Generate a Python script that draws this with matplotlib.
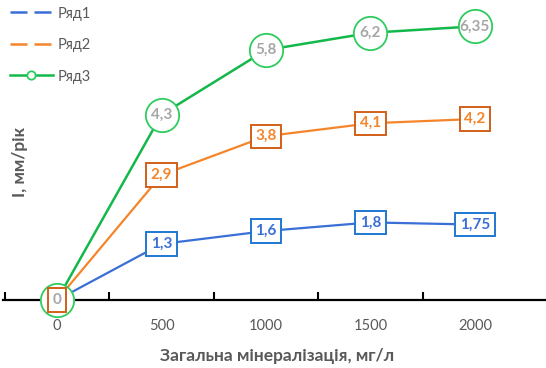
import matplotlib
matplotlib.use('Agg')
import matplotlib.pyplot as plt
from matplotlib.lines import Line2D
from matplotlib.ticker import FixedLocator

plt.rcParams['font.family'] = ['Lato', 'DejaVu Sans']

# data
categories = ['0', '500', '1000', '1500', '2000']
row1 = [0, 1.3, 1.6, 1.8, 1.75]
row2 = [0, 2.9, 3.8, 4.1, 4.2]
row3 = [0, 4.3, 5.8, 6.2, 6.35]
names = ['Ряд1', 'Ряд2', 'Ряд3']

BLUE = '#3a6fd6'
BLUE_EDGE = '#1f78d1'
ORANGE = '#f5852a'
ORANGE_EDGE = '#d2601a'
GREEN = '#13b84a'
GREEN_EDGE = '#2ecc5e'
GREY = '#595959'
LABEL_GREY = '#a6a6a6'

W, H = 546, 368
fig = plt.figure(figsize=(W / 100, H / 100), dpi=100)
ax = fig.add_axes([3 / W, (H - 300) / H, 543 / W, 290 / H])


def fmt(v):
    return f'{v:g}'.replace('.', ',')


x = list(range(len(categories)))
ax.plot(x, row1, color=BLUE, lw=1.6, zorder=2)
ax.plot(x, row2, color=ORANGE, lw=1.6, zorder=2)
ax.plot(x, row3, color=GREEN, lw=1.8, zorder=2)

# blue labels
for xi, v in zip(x[1:], row1[1:]):
    ax.text(xi, v, fmt(v), ha='center', va='center',
            fontsize=11, fontweight='bold', color=BLUE, zorder=5,
            bbox=dict(boxstyle='square,pad=0.3', fc='white', ec=BLUE_EDGE, lw=1.4))

# green circles with grey values
ax.plot(x, row3, ls='none', marker='o', ms=24, mfc='white', mec=GREEN_EDGE,
        mew=1.3, zorder=4, clip_on=False)
for xi, v in zip(x[1:], row3[1:]):
    ax.text(xi, v, fmt(v), ha='center', va='center',
            fontsize=11, fontweight='bold', color=LABEL_GREY, zorder=5)

# orange labels (the zero point sits on top of the circle)
for xi, v in zip(x, row2):
    ax.text(xi, v, fmt(v), ha='center', va='center',
            fontsize=11, fontweight='bold',
            color=ORANGE if v else LABEL_GREY, zorder=6, clip_on=False,
            bbox=dict(boxstyle='square,pad=0.3', fc='white', ec=ORANGE_EDGE, lw=1.4))

ax.set_xlim(-54 / 104.5, 489 / 104.5)
ax.set_ylim(0, 290 / 43.1)
ax.set_xticks(x)
ax.set_xticklabels(categories)
ax.xaxis.set_minor_locator(FixedLocator([-0.5, 0.5, 1.5, 2.5, 3.5]))
ax.tick_params(axis='x', which='major', length=0, pad=14, labelsize=10.5,
               labelcolor=GREY)
ax.tick_params(axis='x', which='minor', direction='in', length=6, width=1.5,
               color='black')
ax.set_yticks([])
for s in ['top', 'right', 'left']:
    ax.spines[s].set_visible(False)
ax.spines['bottom'].set_linewidth(1.6)
ax.spines['bottom'].set_zorder(1)

fig.text(20 / W, 1 - 162 / H, 'I, мм/рік', rotation=90, ha='center',
         va='center', fontsize=12.5, fontweight='bold', color=GREY)
fig.text(277 / W, 1 - 356 / H, 'Загальна мінералізація, мг/л', ha='center',
         va='center', fontsize=12.5, fontweight='bold', color=GREY)

handles = [
    Line2D([], [], color=BLUE, lw=1.8, ls=(0, (6.8, 2.8))),
    Line2D([], [], color=ORANGE, lw=1.8, ls=(0, (6.8, 2.8))),
    Line2D([], [], color=GREEN, lw=1.8, marker='o', ms=6, mfc='white',
           mec=GREEN_EDGE, mew=1.3),
]
leg = fig.legend(handles, names, loc='upper left', bbox_to_anchor=(0, 1.01),
                 frameon=False, fontsize=10.5, handlelength=2.9,
                 labelspacing=1.2, handletextpad=0.35, borderaxespad=0.3)
for t in leg.get_texts():
    t.set_color(GREY)

fig.savefig('out.png', dpi=100)
